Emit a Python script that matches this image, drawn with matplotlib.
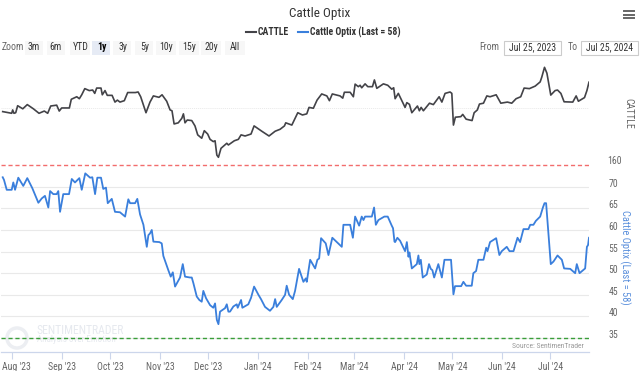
import matplotlib
matplotlib.use('Agg')
import matplotlib.pyplot as plt
import matplotlib.dates as mdates
from matplotlib.patches import Rectangle, Circle
from matplotlib.font_manager import fontManager
from matplotlib.transforms import ScaledTranslation
import pandas as pd

# ---------------- data ----------------
start_date = '2023-07-25'
end_date = '2024-07-25'

# days since start_date, CATTLE price
cattle_day = [1.0, 6.6, 7.2, 8.0, 9.1, 10.3, 13.5, 16.3, 20.1, 23.6, 26.9, 29.0, 30.9, 34.6, 36.2, 37.7,
              42.5, 43.7, 47.1, 48.7, 50.2, 52.1, 54.9, 57.0, 58.3, 59.5, 62.2, 63.0, 64.7, 66.1, 69.1,
              70.9, 72.4, 74.0, 76.7, 78.8, 83.6, 85.3, 86.9, 90.2, 92.7, 94.8, 98.3, 100.2, 103.1, 105.2,
              106.4, 107.7, 110.3, 112.5, 113.5, 114.5, 115.9, 118.7, 120.7, 122.4, 124.9, 126.5, 128.6,
              130.1, 132.1, 133.2, 134.3, 135.3, 136.9, 140.5, 141.5, 145.2, 147.7, 149.4, 151.9, 155.6,
              157.5, 162.3, 166.8, 170.6, 173.7, 176.4, 177.2, 181.0, 184.7, 187.6, 190.3, 191.7, 194.4,
              196.7, 199.6, 202.8, 204.4, 206.2, 211.0, 212.7, 213.7, 217.3, 219.3, 220.4, 222.4, 223.5,
              224.5, 226.6, 228.3, 231.2, 232.4, 233.9, 238.0, 240.7, 243.2, 244.4, 245.3, 247.3, 249.5,
              251.5, 252.6, 254.2, 255.7, 259.2, 260.4, 261.5, 262.9, 266.7, 269.1, 272.7, 274.4, 276.4,
              279.5, 280.6, 281.6, 282.8, 286.2, 287.4, 289.5, 293.2, 294.5, 296.5, 297.8, 300.3, 302.4,
              304.4, 308.2, 311.1, 315.2, 317.9, 320.6, 323.5, 325.6, 328.9, 332.5, 335.6, 336.6, 338.3,
              339.8, 342.2, 344.9, 346.4, 348.5, 350.5, 355.9, 358.0, 359.4, 363.2, 364.7, 366.0]
cattle_val = [178.7, 178.1, 179.3, 178.1, 178.3, 180.8, 179.7, 181.2, 179.7, 178.1, 178.9, 178.1, 180.7,
              181.0, 178.9, 180.0, 180.0, 183.1, 184.0, 183.3, 184.7, 186.9, 186.2, 186.4, 185.2, 187.1,
              187.1, 184.7, 186.2, 184.5, 184.5, 182.1, 182.8, 182.1, 182.6, 185.5, 185.5, 185.7, 184.0,
              178.3, 182.1, 184.3, 183.8, 184.7, 182.4, 179.3, 179.0, 174.3, 174.7, 176.3, 177.9, 174.7,
              175.7, 175.5, 173.6, 170.4, 169.2, 171.9, 170.7, 168.8, 168.0, 168.3, 163.2, 162.4, 165.6,
              167.4, 166.8, 168.3, 168.8, 170.4, 170.0, 170.7, 173.6, 171.7, 170.0, 171.7, 172.4, 173.6,
              174.7, 173.9, 178.3, 177.5, 177.9, 180.2, 179.9, 182.8, 185.0, 184.3, 182.6, 185.0, 184.3,
              183.5, 185.6, 185.6, 184.0, 188.5, 187.6, 188.1, 187.2, 188.6, 187.6, 187.6, 190.0, 187.0,
              188.6, 188.1, 186.7, 187.2, 183.3, 185.2, 182.6, 180.2, 181.9, 181.3, 178.3, 180.7, 179.0,
              180.2, 179.0, 181.7, 181.2, 184.0, 182.1, 185.2, 185.7, 185.2, 173.9, 176.7, 176.9, 177.7,
              176.0, 175.5, 178.3, 179.3, 181.4, 181.7, 184.3, 184.0, 184.7, 181.7, 182.1, 181.7, 183.3,
              184.0, 187.1, 186.9, 187.8, 189.3, 191.0, 194.5, 192.4, 184.6, 186.2, 186.4, 185.2, 182.2,
              182.1, 184.3, 182.4, 183.7, 186.2, 189.2]

# days since start_date, Cattle Optix
optix_day = [1.0, 1.8, 3.5, 6.6, 7.6, 8.7, 10.7, 13.8, 16.3, 19.4, 23.2, 25.3, 27.3, 29.4, 30.5, 32.5,
             34.6, 35.6, 36.7, 38.7, 42.3, 44.0, 46.0, 48.7, 50.2, 52.4, 55.4, 56.8, 58.5, 59.9, 62.2,
             63.6, 65.3, 66.4, 68.9, 70.9, 74.0, 77.2, 79.2, 80.3, 83.4, 84.8, 86.5, 88.6, 90.7, 91.7,
             92.7, 93.8, 94.8, 98.5, 100.0, 101.0, 104.1, 105.6, 106.9, 108.3, 111.4, 113.1, 114.5,
             117.6, 118.7, 119.7, 121.8, 123.4, 124.9, 125.9, 127.6, 130.1, 132.1, 133.2, 134.3, 135.3,
             136.3, 139.4, 140.5, 141.5, 142.5, 144.6, 146.7, 147.3, 149.4, 150.2, 153.9, 155.6, 157.5,
             160.2, 161.8, 164.3, 167.4, 169.5, 170.6, 171.6, 174.7, 176.8, 177.8, 179.3, 181.6, 183.0,
             185.5, 188.2, 189.7, 190.3, 192.4, 195.5, 196.9, 198.0, 199.2, 202.1, 203.8, 206.2, 212.1,
             213.1, 217.3, 219.0, 220.4, 222.9, 224.5, 225.6, 226.6, 230.8, 232.2, 233.3, 234.9, 238.6,
             240.7, 243.2, 244.0, 244.9, 245.3, 246.7, 248.4, 251.5, 252.6, 253.6, 254.2, 255.7, 258.8,
             259.8, 260.4, 261.3, 262.5, 265.0, 266.4, 267.5, 268.5, 269.6, 272.2, 274.4, 276.0, 280.1,
             281.6, 282.6, 286.4, 287.8, 289.5, 293.0, 294.0, 295.7, 297.1, 300.3, 302.0, 302.8, 304.4,
             308.2, 310.2, 311.7, 314.8, 316.5, 319.0, 321.5, 323.1, 325.2, 328.3, 329.4, 331.4, 332.9,
             335.6, 337.3, 338.3, 339.3, 342.2, 343.9, 346.4, 349.1, 350.5, 354.3, 357.4, 358.4, 360.1,
             363.6, 364.7, 365.4, 366.0]
optix_val = [72.2, 71.6, 69.3, 69.3, 71.0, 69.3, 72.1, 70.2, 72.0, 69.7, 66.3, 67.3, 67.9, 65.2, 69.0,
             68.3, 68.3, 69.0, 64.2, 68.3, 68.3, 71.8, 71.0, 72.0, 69.3, 73.1, 72.1, 72.2, 68.3, 72.1,
             72.1, 69.5, 69.8, 66.2, 67.2, 64.2, 64.1, 63.1, 67.1, 66.2, 66.2, 67.2, 63.6, 61.2, 56.1,
             58.8, 59.2, 60.0, 57.3, 57.2, 56.9, 54.0, 50.7, 49.2, 50.2, 46.9, 49.0, 52.1, 49.2, 49.0,
             49.0, 47.7, 44.6, 43.8, 43.4, 45.9, 44.2, 42.6, 42.0, 43.0, 39.2, 38.2, 41.1, 41.9, 42.8,
             41.1, 41.1, 42.3, 42.8, 42.0, 43.8, 42.0, 42.8, 44.3, 46.9, 45.0, 44.0, 42.2, 41.3, 42.2,
             44.0, 42.2, 43.8, 45.0, 47.1, 45.0, 44.0, 45.9, 51.0, 48.0, 48.8, 48.0, 53.1, 51.1, 53.1,
             53.4, 58.1, 56.9, 54.2, 58.2, 56.1, 61.2, 61.2, 58.2, 63.1, 61.0, 63.1, 62.3, 63.1, 63.1,
             65.2, 61.2, 62.3, 63.1, 63.1, 61.0, 60.4, 57.3, 57.2, 58.2, 57.5, 55.1, 57.2, 53.8, 54.8,
             51.1, 52.1, 54.1, 52.1, 53.1, 49.0, 49.7, 52.1, 51.0, 50.7, 49.0, 52.1, 49.0, 53.1, 53.1,
             45.1, 47.0, 47.0, 48.0, 47.1, 47.1, 50.0, 50.5, 53.1, 53.1, 55.9, 55.1, 57.2, 58.1, 54.2,
             55.1, 56.1, 55.1, 55.1, 58.2, 57.2, 60.2, 60.2, 61.2, 61.2, 62.1, 63.1, 65.2, 66.2, 66.2,
             52.1, 52.7, 54.1, 53.1, 51.1, 51.0, 50.0, 52.1, 50.0, 51.1, 56.1, 56.5, 58.2]

month_ticks = ['2023-08-01', '2023-09-01', '2023-10-01', '2023-11-01', '2023-12-01', '2024-01-01',
               '2024-02-01', '2024-03-01', '2024-04-01', '2024-05-01', '2024-06-01', '2024-07-01']
month_labels = ["Aug '23", "Sep '23", "Oct '23", "Nov '23", "Dec '23", "Jan '24",
                "Feb '24", "Mar '24", "Apr '24", "May '24", "Jun '24", "Jul '24"]
optix_ticks = [35, 40, 45, 50, 55, 60, 65, 70]
optix_upper = 75
optix_lower = 35
cattle_ticks = [160, 180]
zoom_buttons = ['3m', '6m', 'YTD', '1y', '3y', '5y', '10y', '15y', '20y', 'All']

# ---------------- font choice: a narrow face with a regular weight ----------------
def has_regular(name):
    for f in fontManager.ttflist:
        if f.name == name and f.style == 'normal':
            w = f.weight if isinstance(f.weight, int) else {'normal': 400, 'regular': 400,
                                                             'book': 400, 'light': 300}.get(str(f.weight), 700)
            if 300 <= w <= 450:
                return True
    return False

fam = None
for cand in ['Liberation Sans Narrow', 'Roboto Condensed', 'Open Sans Condensed']:
    if has_regular(cand):
        fam = cand
        break
SCALE = 1.0
if fam is None:
    fam = 'DejaVu Sans'
    SCALE = 0.85
plt.rcParams['font.family'] = [fam, 'DejaVu Sans']
plt.rcParams['font.weight'] = 'normal'

def fs(v):
    return v * SCALE

# ---------------- figure ----------------
W, H = 644, 371
fig = plt.figure(figsize=(W / 100, H / 100), dpi=100)
fig.patch.set_facecolor('white')

def fbox(x0, y0, x1, y1):
    return [x0 / W, 1 - y1 / H, (x1 - x0) / W, (y1 - y0) / H]

ov = fig.add_axes([0, 0, 1, 1], zorder=0)
ov.set_xlim(0, W)
ov.set_ylim(H, 0)
ov.axis('off')

start = pd.Timestamp(start_date)
end = pd.Timestamp(end_date)
cattle_x = start + pd.to_timedelta(cattle_day, unit='D')
optix_x = start + pd.to_timedelta(optix_day, unit='D')
tick_x = pd.to_datetime(month_ticks)

GRID = '#e9e9e9'
LABEL = '#666666'
AXIS = '#ccd6eb'
TXT = dict(fontweight='normal')

# top panel (cattle)
ax1 = fig.add_axes(fbox(1.1, 62, 589, 164.3), zorder=2)
ax1.set_facecolor('none')
ax1.plot(cattle_x, cattle_val, color='#434348', lw=1.2, solid_joinstyle='round')
ax1.set_xlim(start, end)
ax1.set_ylim(159.9, 196.4)
ax1.set_yticks(cattle_ticks)
ax1.yaxis.tick_right()
ax1.tick_params(axis='y', length=0, labelright=False)
ax1.grid(axis='y', color=GRID, lw=0.7, ls=(0, (1, 1)))
ax1.set_xticks([])
for s in ax1.spines.values():
    s.set_visible(False)

# bottom panel (optix)
ax2 = fig.add_axes(fbox(1.1, 164.3, 589, 352), zorder=2)
ax2.set_facecolor('none')
ax2.set_xlim(start, end)
ax2.set_ylim(31.76, 75.2)
ax2.grid(axis='y', color=GRID, lw=0.8)
ax2.axhline(optix_upper, color='#f26d6d', lw=1.0, ls=(0, (3, 2)), zorder=3)
ax2.axhline(optix_lower, color='#3a9e3a', lw=1.0, ls=(0, (3, 2)), zorder=3)
ax2.plot(optix_x, optix_val, color='#3a7fdc', lw=1.3, solid_joinstyle='round', zorder=4)
ax2.yaxis.tick_right()
ax2.set_yticks(optix_ticks)
ax2.set_yticklabels([str(t) for t in optix_ticks], fontweight='normal')
ax2.tick_params(axis='y', length=0, pad=14, labelsize=fs(7), labelcolor=LABEL)
for lab in ax2.get_yticklabels():
    lab.set_verticalalignment('baseline')
ax2.set_xticks(tick_x)
ax2.set_xticklabels(month_labels, fontweight='normal')
ax2.tick_params(axis='x', length=5, width=0.8, color=AXIS, pad=2, labelsize=fs(7), labelcolor=LABEL)
for k, s in ax2.spines.items():
    s.set_visible(k == 'bottom')
ax2.spines['bottom'].set_color(AXIS)
ax2.spines['bottom'].set_linewidth(0.9)
# keep the first month label inside the figure (starts near the left edge as in the reference)
first_lab = ax2.xaxis.get_major_ticks()[0].label1
first_lab.set_horizontalalignment('left')
first_lab.set_transform(first_lab.get_transform() + ScaledTranslation(-10 / 100, 0, fig.dpi_scale_trans))

# right-side labels
ov.text(607, 161, str(cattle_ticks[0]), fontsize=fs(7), color=LABEL, ha='left', va='center', **TXT)
ov.text(628, 113, 'CATTLE', rotation=-90, fontsize=fs(7), color=LABEL, ha='center', va='center', **TXT)
ov.text(625, 257, 'Cattle Optix (Last = 58)', rotation=-90, fontsize=fs(7.5), color='#5a8fdc',
        ha='center', va='center', **TXT)

# source + watermark
ov.text(584, 346, 'Source: SentimenTrader', fontsize=fs(5.5), color='#9a9a9a', ha='right', va='center', **TXT)
ov.add_patch(Circle((17, 338), 10, fill=False, ec='#eceef2', lw=2.5, zorder=1))
ov.text(37, 330, 'SENTIMENTRADER', fontsize=fs(8.5), color='#e6e9ef', ha='left', va='center', **TXT)
ov.text(37, 340, 'Analysis over Emotion', fontsize=fs(6.5), color='#e6e9ef', ha='left', va='center', **TXT)

# header
ov.text(320, 13, 'Cattle Optix', fontsize=fs(9.5), color='#333333', ha='center', va='center', **TXT)
ov.plot([246, 256], [32, 32], color='#434348', lw=1.5)
ov.text(258, 32, 'CATTLE', fontsize=fs(7), fontweight='bold', color='#333333', ha='left', va='center')
ov.plot([298, 308], [32, 32], color='#3a7fdc', lw=1.5)
ov.text(310, 32, 'Cattle Optix (Last = 58)', fontsize=fs(7), fontweight='bold', color='#333333',
        ha='left', va='center')
for yy in (11, 14.5, 18):
    ov.plot([624, 634], [yy, yy], color='#666666', lw=1.4)

# zoom row
ov.text(2, 47.5, 'Zoom', fontsize=fs(7), color='#666666', ha='left', va='center', **TXT)
btn_cx = [34, 56, 80.5, 101.5, 122.5, 144.5, 166.5, 189, 211, 235]
for cx, lab in zip(btn_cx, zoom_buttons):
    sel = lab == '1y'
    w = 20 if len(lab) >= 3 else 18
    ov.add_patch(Rectangle((cx - w / 2, 40.5), w, 14, fc='#e6ebf5' if sel else '#f7f7f7', ec='none'))
    ov.text(cx, 47.5, lab, fontsize=fs(7), color='#000000' if sel else '#333333',
            fontweight='bold' if sel else 'normal', ha='center', va='center')
ov.text(489, 47.5, 'From', fontsize=fs(7), color='#666666', ha='center', va='center', **TXT)
ov.add_patch(Rectangle((504.5, 40.5), 57, 14, fc='white', ec='#cccccc', lw=0.8))
ov.text(533, 47.5, 'Jul 25, 2023', fontsize=fs(7), color='#333333', ha='center', va='center', **TXT)
ov.text(572.5, 47.5, 'To', fontsize=fs(7), color='#666666', ha='center', va='center', **TXT)
ov.add_patch(Rectangle((581.5, 40.5), 57, 14, fc='white', ec='#cccccc', lw=0.8))
ov.text(610, 47.5, 'Jul 25, 2024', fontsize=fs(7), color='#333333', ha='center', va='center', **TXT)

fig.savefig('out.png', dpi=100, facecolor='white')
